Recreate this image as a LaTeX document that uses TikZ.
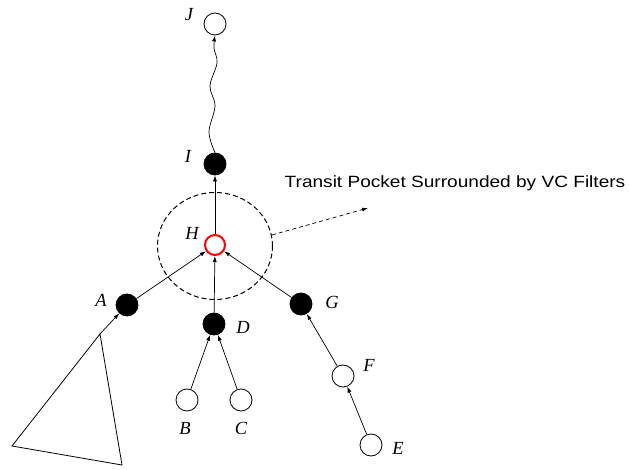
\documentclass[tikz,border=0pt]{standalone}
\usepackage{fontspec}
\setmainfont{Liberation Serif}
\newfontfamily\annfont[FakeStretch=1.17]{Liberation Sans}
\usetikzlibrary{arrows.meta,shapes.geometric}
\tikzset{
  vtx/.style={circle,draw=black,line width=0.8pt,minimum size=22pt,inner sep=0pt},
  full/.style={vtx,fill=black},
  hollow/.style={vtx,fill=white},
  redv/.style={circle,draw=red,line width=2pt,fill=white,minimum size=20pt,inner sep=0pt},
  lbl/.style={font=\fontsize{18.5}{20}\selectfont\itshape,inner sep=0pt},
  edge/.style={line width=0.7pt,-{Latex[length=6pt,width=4pt]}},
  pocket/.style={draw,dashed,dash pattern=on 5pt off 3pt,line width=1pt}
}
\begin{document}
\begin{tikzpicture}[x=1pt,y=-1pt]
\useasboundingbox (0,0) rectangle (629,470);
% pocket
\node[pocket,ellipse,minimum width=115pt,minimum height=107pt,inner sep=0pt] (pk) at (215,246) {};
% nodes
\node[hollow] (J) at (215,24) {};
\node[full] (I) at (215,164) {};
\node[redv] (H) at (215,245) {};
\node[full] (A) at (127,305) {};
\node[full] (D) at (214,324) {};
\node[full] (G) at (301,304) {};
\node[hollow] (B) at (187,400) {};
\node[hollow] (C) at (241,400) {};
\node[hollow] (F) at (343,376) {};
\node[hollow] (E) at (371,445) {};
% labels
\node[lbl] (lJ) at (189,15) {J};
\node[lbl] (lI) at (188,156) {I};
\node[lbl] (lH) at (192,233) {H};
\node[lbl] (lA) at (101,300) {A};
\node[lbl] (lD) at (243,327) {D};
\node[lbl] (lG) at (332,302) {G};
\node[lbl] (lB) at (185,428) {B};
\node[lbl] (lC) at (241,428) {C};
\node[lbl] (lF) at (369,365) {F};
\node[lbl] (lE) at (398,448) {E};
% annotation
\node[font=\fontsize{16.3}{18}\annfont,inner sep=0pt] (txt) at (455,183) {Transit Pocket Surrounded by VC Filters};
\coordinate (ps) at (272,235);
\coordinate (pe) at (368,208);
\draw[line width=0.7pt,dash pattern=on 4pt off 3pt,-{Latex[length=6pt,width=4pt]}] (ps) -- (pe);
% triangle
\coordinate (tA) at (100,334);
\coordinate (tL) at (12,446);
\coordinate (tR) at (122,465);
\draw[line width=0.8pt] (tR) -- (tA) -- (tL) -- (tR);
% edges
\draw[edge] (tA) -- (A);
\draw[edge] (A) -- (H);
\draw[edge] (D) -- (H);
\draw[edge] (G) -- (H);
\draw[edge] (H) -- (I);
\draw[edge] (B) -- (D);
\draw[edge] (C) -- (D);
\draw[edge] (F) -- (G);
\draw[edge] (E) -- (F);
\draw[edge] plot[smooth,tension=0.6] coordinates {(I.north) (209,132) (215,106) (210,86) (217,63) (214,48) (J.south)};
\end{tikzpicture}
\end{document}
